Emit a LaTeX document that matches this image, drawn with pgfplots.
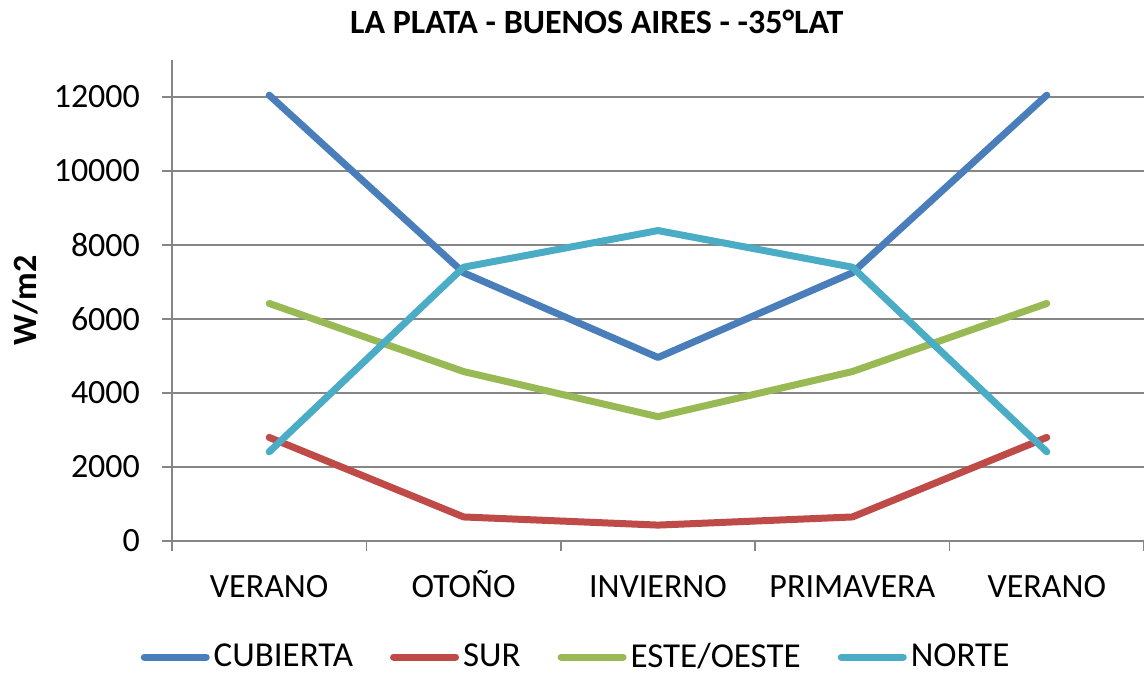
\documentclass[border=0pt]{standalone}
\usepackage{pgfplots}
\pgfplotsset{compat=1.18}
\usepackage{fontspec}
\setmainfont{Carlito}
\definecolor{cCub}{HTML}{4A7EBB}
\definecolor{cSur}{HTML}{BE4B48}
\definecolor{cEst}{HTML}{98B954}
\definecolor{cNor}{HTML}{4BACC6}
\definecolor{gridg}{HTML}{868686}
\begin{document}
\begin{tikzpicture}
\begin{axis}[
  at={(0,0)}, anchor=south west,
  scale only axis, width=486pt, height=240.5pt,
  xmin=-0.5, xmax=4.5, ymin=0, ymax=13000,
  axis x line*=bottom, axis y line*=left,
  axis line style={gridg, line width=0.8pt, -},
  xtick={-0.5,0.5,1.5,2.5,3.5,4.5},
  xticklabels={,,,,,},
  extra x ticks={0,1,2,3,4},
  extra x tick labels={VERANO,OTOÑO,INVIERNO,PRIMAVERA,VERANO},
  extra x tick style={major tick length=0pt, grid=none},
  x tick style={draw=gridg, line width=0.8pt},
  ytick={0,2000,4000,6000,8000,10000,12000},
  y tick style={draw=gridg, line width=0.8pt},
  major tick length=5pt, tick align=outside,
  ymajorgrids, grid style={gridg, line width=0.8pt},
  /pgf/number format/assume math mode=true,
  /pgf/number format/set thousands separator={},
  scaled y ticks=false,
  tick label style={font=\fontsize{17}{20}\selectfont, text=black},
  xticklabel style={anchor=base, yshift=-28pt},
  yticklabel style={anchor=east, xshift=-7.5pt},
  title={\textbf{LA PLATA - BUENOS AIRES - -35°LAT}},
  title style={at={(0.437,1)}, anchor=center, yshift=13pt, font=\fontsize{17}{20}\selectfont},
  ylabel={\textbf{W/m2}},
  ylabel style={at={(axis description cs:0,0.5)}, anchor=center, yshift=73.5pt, font=\fontsize{17}{20}\selectfont},
  legend columns=4,
  legend style={draw=none, fill=none, at={(axis description cs:0.4167,0)}, anchor=center, yshift=-58pt,
    font=\fontsize{17.5}{20}\selectfont, inner sep=0pt,
    /tikz/every even column/.append style={column sep=16.5pt}},
  legend image code/.code={\draw[#1, line width=3.5pt, line cap=round] (0pt,0pt) -- (31pt,0pt);},
  every axis plot/.append style={line width=3.5pt, line join=round, line cap=round, mark=none},
]
\addplot[cCub] coordinates {(0,12050) (1,7250) (2,4960) (3,7250) (4,12050)};
\addlegendentry{CUBIERTA}
\addplot[cSur] coordinates {(0,2800) (1,650) (2,430) (3,650) (4,2800)};
\addlegendentry{SUR}
\addplot[cEst] coordinates {(0,6420) (1,4580) (2,3360) (3,4580) (4,6420)};
\addlegendentry{ESTE/OESTE}
\addplot[cNor] coordinates {(0,2410) (1,7400) (2,8390) (3,7400) (4,2410)};
\addlegendentry{NORTE}
\end{axis}
\pgfresetboundingbox
\path[use as bounding box] (-86pt,-67pt) rectangle (486pt,270.5pt);
\end{tikzpicture}
\end{document}
